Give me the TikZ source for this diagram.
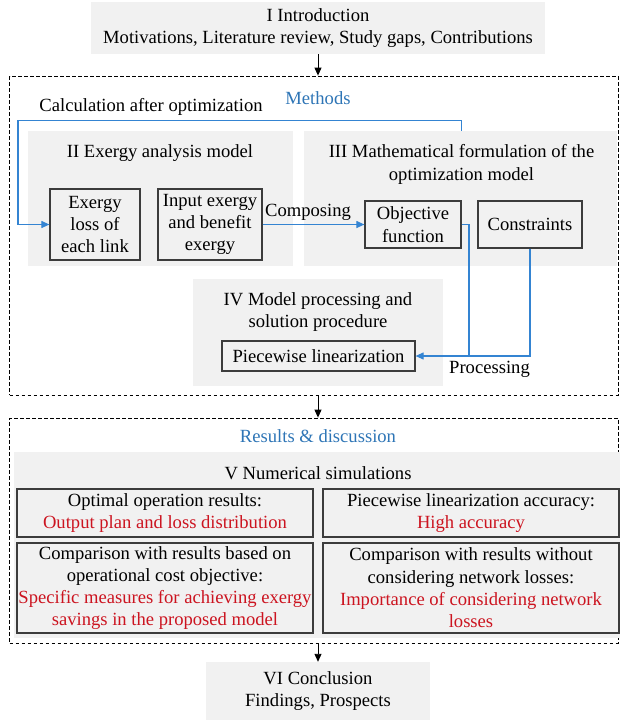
\documentclass[tikz,border=0pt]{standalone}
\usepackage{fontspec}
\setmainfont{Liberation Serif}
\usetikzlibrary{arrows.meta}

\definecolor{panel}{RGB}{241,241,241}
\definecolor{framegray}{RGB}{60,60,60}
\definecolor{flowblue}{RGB}{52,132,210}
\definecolor{headblue}{RGB}{46,117,182}
\definecolor{resultred}{RGB}{204,20,32}

\tikzset{
  panelbox/.style={fill=panel, draw=none, inner sep=0pt},
  stagebox/.style={draw=framegray, line width=1.2pt, fill=panel, inner sep=0pt, align=center},
  groupbox/.style={draw=black, line width=0.8pt, dash pattern=on 3.5pt off 2.5pt, inner sep=0pt},
  caption/.style={inner sep=0pt, align=center},
  bluehead/.style={inner sep=0pt, text=headblue},
  redtext/.style={text=resultred},
  flowline/.style={draw=flowblue, line width=1.1pt},
  flowarrow/.style={flowline, -{Triangle[length=8pt,width=7pt]}},
  downarrow/.style={draw=black, line width=0.9pt, -{Triangle[length=8pt,width=7pt]}},
}

\begin{document}
\begin{tikzpicture}[x=1pt, y=-1pt, font=\fontsize{18.6}{22.3}\selectfont]
\useasboundingbox (0,0) rectangle (622,721);

% ---- I Introduction
\node[panelbox, minimum width=454, minimum height=52, align=center] (intro) at (318,28)
  {I Introduction\\Motivations, Literature review, Study gaps, Contributions};

% ---- Methods group
\node[groupbox, minimum width=608.5, minimum height=319] (methods) at (313.75,235.5) {};
\node[bluehead] (methodsT) at (318,98) {Methods};
\node[caption] (calcT) at (151,107) {Calculation after optimization};

% II Exergy analysis model
\node[panelbox, minimum width=265, minimum height=135] (g2) at (160.5,198.5) {};
\node[caption] (g2T) at (160,153) {II Exergy analysis model};
\node[stagebox, minimum width=90, minimum height=71] (loss) at (95,224.5) {Exergy\\loss of\\each link};
\node[stagebox, minimum width=104, minimum height=71] (input) at (210,224.5) {Input exergy\\and benefit\\exergy};

% III Mathematical formulation
\node[panelbox, minimum width=313, minimum height=135] (g3) at (460.5,198.5) {};
\node[caption] (g3T) at (461.5,164.5) {III Mathematical formulation of the\\optimization model};
\node[stagebox, minimum width=96, minimum height=47] (obj) at (413,224.5) {Objective\\function};
\node[stagebox, minimum width=104, minimum height=47] (cons) at (530,224.5) {Constraints};

% IV Model processing
\node[panelbox, minimum width=250, minimum height=107] (g4) at (318,332.5) {};
\node[caption] (g4T) at (318,312) {IV Model processing and\\solution procedure};
\node[stagebox, minimum width=193, minimum height=30] (piece) at (318.5,356) {Piecewise linearization};

% connector labels
\node[caption] (compT) at (308,212) {Composing};
\node[caption] (procT) at (489.5,369) {Processing};

% blue flows inside Methods
\coordinate (loopTL) at (18,120.5);
\coordinate (objJoin) at (469,356);
\draw[flowarrow] (obj.east |- g3.north) |- (loopTL) |- (loss.west);
\draw[flowarrow] (input.east) -- (obj.west);
\draw[flowline] (obj.east) -| (objJoin);
\draw[flowarrow] (cons.south) |- (piece.east);

% ---- Results & discussion group
\node[groupbox, minimum width=608.5, minimum height=225] (results) at (313.75,530.5) {};
\node[bluehead] (resultsT) at (318,436) {Results \& discussion};

\node[panelbox, minimum width=606, minimum height=186] (g5) at (317,545) {};
\node[caption] (g5T) at (318,473) {V Numerical simulations};
\node[stagebox, minimum width=296, minimum height=48] (resA) at (165,513)
  {Optimal operation results:\\\textcolor{resultred}{Output plan and loss distribution}};
\node[stagebox, minimum width=296, minimum height=48] (resB) at (471,513)
  {Piecewise linearization accuracy:\\\textcolor{resultred}{High accuracy}};
\node[stagebox, minimum width=296, minimum height=90] (resC) at (165,588)
  {Comparison with results based on\\operational cost objective:\\\textcolor{resultred}{Specific measures for achieving exergy}\\\textcolor{resultred}{savings in the proposed model}};
\node[stagebox, minimum width=296, minimum height=90] (resD) at (471,588)
  {Comparison with results without\\considering network losses:\\\textcolor{resultred}{Importance of considering network}\\\textcolor{resultred}{losses}};

% ---- VI Conclusion
\node[panelbox, minimum width=224, minimum height=58, align=center] (concl) at (318,691)
  {VI Conclusion\\Findings, Prospects};

% black flow between stages
\draw[downarrow] (intro.south) -- (intro.south |- methods.north);
\draw[downarrow] (intro.south |- methods.south) -- (intro.south |- results.north);
\draw[downarrow] (intro.south |- results.south) -- (concl.north);
\end{tikzpicture}
\end{document}
